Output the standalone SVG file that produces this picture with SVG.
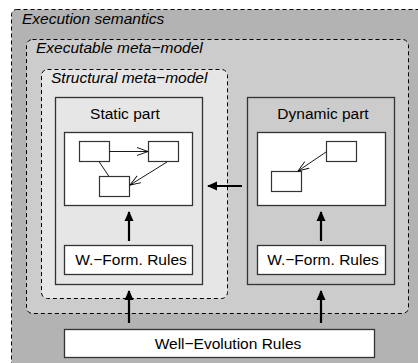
<svg xmlns="http://www.w3.org/2000/svg" width="418" height="363" viewBox="0 0 418 363">
<defs>
<style>
.cont{stroke:#000;stroke-width:1;stroke-dasharray:4,3}
.part{stroke:#333;stroke-width:1.3}
.wb{fill:#fff;stroke:#333;stroke-width:1.3}
.sb{fill:#fff;stroke:#333;stroke-width:1.2}
text{font-family:"Liberation Sans",Arial,sans-serif;font-size:15.5px;fill:#000}
.it{font-style:italic}
.big{stroke:#000;stroke-width:2.2;fill:none}
.thin{stroke:#000;stroke-width:0.9;fill:none}
</style>
<marker id="ah" markerWidth="10" markerHeight="10" refX="9" refY="5" orient="auto" markerUnits="userSpaceOnUse">
<path d="M0,0.5 L10,5 L0,9.5 Z" fill="#000"/>
</marker>
<marker id="oh" markerWidth="12" markerHeight="10" refX="11" refY="5" orient="auto" markerUnits="userSpaceOnUse">
<path d="M0,1 L11,5 L0,9" fill="none" stroke="#000" stroke-width="0.9"/>
</marker>
</defs>
<g id="execution-semantics">
<rect x="11.5" y="9.5" width="420" height="370" rx="5" fill="#b3b3b3" class="cont"/>
<text class="it" x="22" y="24">Execution semantics</text>
</g>
<g id="executable-meta-model">
<rect x="26.5" y="39.5" width="382" height="274" rx="6" fill="#cccccc" class="cont"/>
<text class="it" x="36" y="53">Executable meta−model</text>
</g>
<g id="structural-meta-model">
<rect x="41.5" y="69.5" width="186" height="229" rx="6" fill="#e6e6e6" class="cont"/>
<text class="it" x="51" y="83">Structural meta−model</text>
</g>
<g id="static-part">
<rect x="55.5" y="97.5" width="147" height="187" fill="#e6e6e6" class="part"/>
<text x="125" y="119" text-anchor="middle">Static part</text>
<rect x="64.5" y="132.5" width="128" height="73" class="wb"/>
<rect x="79.5" y="141.5" width="30" height="20" class="sb"/>
<rect x="148.5" y="141.5" width="30" height="20" class="sb"/>
<rect x="99.5" y="176.5" width="30" height="20" class="sb"/>
<line x1="109.5" y1="151.5" x2="148" y2="151.5" class="thin" marker-end="url(#oh)"/>
<line x1="99" y1="161.5" x2="109" y2="176.5" class="thin"/>
<line x1="167" y1="162" x2="130" y2="185" class="thin" marker-end="url(#oh)"/>
</g>
<g id="dynamic-part">
<rect x="247.5" y="97.5" width="147" height="187" fill="#cccccc" class="part"/>
<text x="323" y="119" text-anchor="middle">Dynamic part</text>
<rect x="257.5" y="132.5" width="128" height="73" class="wb"/>
<rect x="326.5" y="141.5" width="30" height="20" class="sb"/>
<rect x="271.5" y="171.5" width="30" height="20" class="sb"/>
<line x1="326" y1="152" x2="298" y2="171" class="thin" marker-end="url(#oh)"/>
</g>
<g id="static-wf-rules">
<rect x="64.5" y="245.5" width="128" height="29" class="wb"/>
<text x="131" y="265" text-anchor="middle">W.−Form. Rules</text>
</g>
<g id="dynamic-wf-rules">
<rect x="257.5" y="245.5" width="128" height="29" class="wb"/>
<text x="323" y="265" text-anchor="middle">W.−Form. Rules</text>
</g>
<g id="well-evolution-rules">
<rect x="64.5" y="329.5" width="310" height="28" class="wb"/>
<text x="228" y="349" text-anchor="middle">Well−Evolution Rules</text>
</g>
<g id="connectors">
<line x1="129" y1="241" x2="129" y2="212" class="big" marker-end="url(#ah)"/>
<line x1="321" y1="241" x2="321" y2="212" class="big" marker-end="url(#ah)"/>
<line x1="129" y1="323" x2="129" y2="291" class="big" marker-end="url(#ah)"/>
<line x1="321" y1="323" x2="321" y2="291" class="big" marker-end="url(#ah)"/>
<line x1="242" y1="186" x2="208" y2="186" class="big" marker-end="url(#ah)"/>
</g>
</svg>
